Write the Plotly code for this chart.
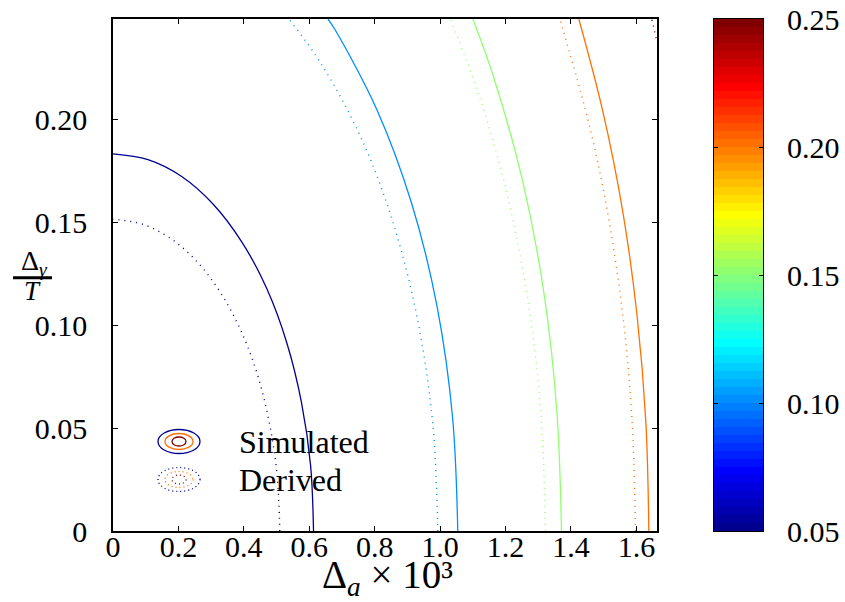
import numpy as np
import plotly.graph_objects as go

# ---------------- data ----------------
levels = [0.05, 0.10, 0.15, 0.20, 0.25]
cmin, cmax = 0.05, 0.25

# Simulated contours (solid)
sim_x = {
    0.05: [0.613, 0.604, 0.576, 0.531, 0.470, 0.394, 0.307, 0.210, 0.107, 0],
    0.10: [1.054, 1.038, 0.991, 0.913, 0.807, 0.678, 0.657],
    0.15: [1.371, 1.357, 1.318, 1.253, 1.163, 1.100],
    0.20: [1.638, 1.629, 1.602, 1.558, 1.496, 1.424],
}
sim_y = {
    0.05: [0, 0.0319, 0.0627, 0.0917, 0.1179, 0.1405, 0.1588, 0.1724, 0.1806, 0.1834],
    0.10: [0, 0.0553, 0.1089, 0.1593, 0.2048, 0.2440, 0.249],
    0.15: [0, 0.0580, 0.1151, 0.1697, 0.2210, 0.249],
    0.20: [0, 0.0527, 0.1048, 0.1557, 0.2050, 0.249],
}
# Derived contours (dotted)
der_x = {
    0.05: [0.510, 0.502, 0.479, 0.442, 0.391, 0.328, 0.255, 0.174, 0.0886, 0],
    0.10: [0.993, 0.978, 0.933, 0.860, 0.761, 0.638, 0.538],
    0.15: [1.322, 1.309, 1.271, 1.208, 1.121, 1.031],
    0.20: [1.597, 1.588, 1.562, 1.519, 1.459, 1.366],
    0.25: [1.647, 1.652, 1.656, 1.663],
}
der_y = {
    0.05: [0, 0.0264, 0.0518, 0.0758, 0.0974, 0.1161, 0.1313, 0.1425, 0.1493, 0.1516],
    0.10: [0, 0.0514, 0.1012, 0.1480, 0.1903, 0.2268, 0.249],
    0.15: [0, 0.0554, 0.1097, 0.1619, 0.2109, 0.249],
    0.20: [0, 0.0502, 0.0999, 0.1485, 0.1955, 0.249],
    0.25: [0.2486, 0.2457, 0.2425, 0.238],
}

x_ticks = [0, 0.2, 0.4, 0.6, 0.8, 1.0, 1.2, 1.4, 1.6]
x_ticktext = ["0", "0.2", "0.4", "0.6", "0.8", "1.0", "1.2", "1.4", "1.6"]
y_ticks = [0, 0.05, 0.10, 0.15, 0.20]
y_ticktext = ["0", "0.05", "0.10", "0.15", "0.20"]
cb_ticks = [0.05, 0.10, 0.15, 0.20, 0.25]
cb_ticktext = ["0.05", "0.10", "0.15", "0.20", "0.25"]
x_range = [0, 1.663]
y_range = [0, 0.249]
n_colors = 64

# ---------------- MATLAB jet(64) colormap ----------------
def matlab_jet(m=64):
    n = int(np.ceil(m / 4))
    u = np.concatenate([np.arange(1, n + 1) / n, np.ones(n - 1), np.arange(n, 0, -1) / n])
    g = int(np.ceil(n / 2)) - (1 if m % 4 == 1 else 0) + np.arange(1, len(u) + 1)
    r = g + n
    b = g - n
    cmap = np.zeros((m, 3))
    for arr, col in ((r, 0), (g, 1), (b, 2)):
        for k, idx in enumerate(arr):
            if 1 <= idx <= m:
                cmap[idx - 1, col] = u[k]
    return cmap

JET = matlab_jet(n_colors)

def rgb(row):
    return "rgb(%d,%d,%d)" % tuple(int(round(v * 255)) for v in row)

def level_color(lev):
    idx = int(np.floor((lev - cmin) / (cmax - cmin) * n_colors + 1e-9))
    idx = min(max(idx, 0), n_colors - 1)
    return rgb(JET[idx])

colorscale = []
for i in range(n_colors):
    colorscale.append([i / n_colors, rgb(JET[i])])
    colorscale.append([(i + 1) / n_colors, rgb(JET[i])])

# ---------------- geometry ----------------
W, H = 845, 602
ML, MR, MT, MB = 113, 8, 19, 71
PW, PH = W - ML - MR, H - MT - MB

def fx(xpix):
    return (xpix - ML) / PW

def fy(ypix):
    return (H - MB - ypix) / PH

FONT = "Liberation Serif"
fig = go.Figure()

for lev in levels:
    if lev in sim_x:
        fig.add_trace(go.Scatter(x=sim_x[lev], y=sim_y[lev], mode="lines",
                                 line=dict(color=level_color(lev), width=1.3, shape="spline",
                                           smoothing=1.0),
                                 showlegend=False, hoverinfo="skip"))
    if lev in der_x:
        fig.add_trace(go.Scatter(x=der_x[lev], y=der_y[lev], mode="lines",
                                 line=dict(color=level_color(lev), width=1.4, shape="spline",
                                           smoothing=1.0, dash="1px,5px"),
                                 showlegend=False, hoverinfo="skip"))

# colour bar as a heatmap in its own small axes
cb_centres = [cmin + (i + 0.5) * (cmax - cmin) / n_colors for i in range(n_colors)]
fig.add_trace(go.Heatmap(
    x=[0], y=cb_centres, z=[[c] for c in cb_centres],
    zmin=cmin, zmax=cmax, colorscale=colorscale, showscale=False,
    xaxis="x2", yaxis="y2", hoverinfo="skip",
))

shapes = []
annotations = []

# legend glyphs (concentric ellipses)
legend_entries = [("Simulated", "solid", 441.5), ("Derived", "1px,3px", 479.5)]
ring_levels = [0.05, 0.20, 0.25]
ring_half = [(21, 12), (14, 8), (7, 4.5)]
for label, dash, pyy in legend_entries:
    for lev, (hw, hh) in zip(ring_levels, ring_half):
        shapes.append(dict(type="circle", xref="paper", yref="paper",
                           xsizemode="pixel", ysizemode="pixel", xanchor=fx(179), yanchor=fy(pyy),
                           x0=-hw, x1=hw, y0=-hh, y1=hh,
                           line=dict(color=level_color(lev), width=1.3, dash=dash)))
    annotations.append(dict(text=label, xref="paper", yref="paper", x=fx(237), y=fy(pyy),
                            xanchor="left", yanchor="middle", showarrow=False,
                            font=dict(family=FONT, size=32, color="black")))

# y-axis label as a fraction
annotations.append(dict(text="Δ<sub><i>γ</i></sub>", xref="paper", yref="paper",
                        x=fx(34), y=fy(262), xanchor="center", yanchor="middle",
                        showarrow=False, font=dict(family=FONT, size=28, color="black")))
annotations.append(dict(text="<i>T</i>", xref="paper", yref="paper",
                        x=fx(32), y=fy(291), xanchor="center", yanchor="middle",
                        showarrow=False, font=dict(family=FONT, size=27, color="black")))
shapes.append(dict(type="line", xref="paper", yref="paper", x0=fx(13), x1=fx(52),
                   y0=fy(277.7), y1=fy(277.7), line=dict(color="black", width=3)))
# x-axis label
annotations.append(dict(text="Δ<sub><i>a</i></sub> × 10³", xref="paper", yref="paper",
                        x=fx(387), y=fy(577), xanchor="center", yanchor="middle",
                        showarrow=False, font=dict(family=FONT, size=39, color="black")))

axis_common = dict(showline=True, linecolor="black", linewidth=1.5, mirror="ticks",
                   ticks="inside", ticklen=5, tickcolor="black", tickwidth=1,
                   showgrid=False, zeroline=False,
                   tickfont=dict(family=FONT, size=30, color="black"))

fig.update_layout(
    width=W, height=H,
    margin=dict(l=ML, r=MR, t=MT, b=MB, pad=0, autoexpand=False),
    paper_bgcolor="white", plot_bgcolor="white",
    xaxis=dict(domain=[0, fx(657)], range=x_range, tickvals=x_ticks, ticktext=x_ticktext,
               ticklabelstandoff=-12, **axis_common),
    yaxis=dict(domain=[0, 1], range=y_range, tickvals=y_ticks, ticktext=y_ticktext,
               ticklabelstandoff=18, **axis_common),
    xaxis2=dict(domain=[fx(714), fx(763)], anchor="y2", range=[-0.5, 0.5],
                showline=True, mirror=True, linecolor="black", linewidth=1,
                ticks="", showticklabels=False, showgrid=False, zeroline=False),
    yaxis2=dict(domain=[0, 1], anchor="x2", side="right", range=[cmin, cmax],
                tickvals=cb_ticks, ticktext=cb_ticktext,
                showline=True, mirror="allticks", linecolor="black", linewidth=1,
                ticks="inside", ticklen=4, tickcolor="black", tickwidth=1,
                ticklabelstandoff=17, showgrid=False, zeroline=False,
                tickfont=dict(family=FONT, size=30, color="black")),
    shapes=shapes, annotations=annotations,
    showlegend=False,
)

fig.write_html("out.html")
